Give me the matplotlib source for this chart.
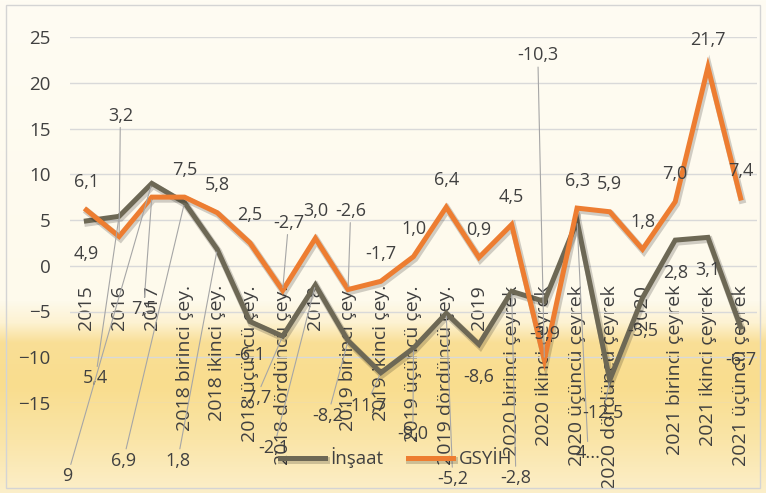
import matplotlib
matplotlib.use("Agg")
import matplotlib.pyplot as plt
import matplotlib.patheffects as pe
from matplotlib.colors import to_rgb
from matplotlib.patches import Rectangle
import numpy as np

plt.rcParams['font.family'] = ['Open Sans', 'DejaVu Sans']

# categories (x axis)
categories = ['2015', '2016', '2017',
              '2018 birinci çey.', '2018 ikinci çey.', '2018 üçüncü çey.', '2018 dördüncü çey.', '2018',
              '2019 birinci çey.', '2019 ikinci çey.', '2019 üçüncü çey.', '2019 dördüncü çey.', '2019',
              '2020 birinci çeyrek', '2020 ikinci çeyrek', '2020 üçüncü çeyrek', '2020 dördüncü çeyrek', '2020',
              '2021 birinci çeyrek', '2021 ikinci çeyrek', '2021 üçüncü çeyrek']

# series values (% change)
insaat = [4.9, 5.4, 9.0, 6.9, 1.8, -6.1, -7.7, -2.1, -8.2, -11.7, -9.0, -5.2, -8.6,
          -2.8, -3.9, 4.9, -12.5, -3.5, 2.8, 3.1, -6.7]
gsyih = [6.1, 3.2, 7.5, 7.5, 5.8, 2.5, -2.7, 3.0, -2.6, -1.7, 1.0, 6.4, 0.9,
         4.5, -10.3, 6.3, 5.9, 1.8, 7.0, 21.7, 7.4]

# label texts that differ from the plain value
insaat_text = {2: '9', 15: '4...'}

# data labels moved away from their point (index -> label position), drawn with a leader line
gsyih_moved = {1: (1.04, 16.4), 2: (1.75, -4.7), 6: (6.18, 4.7), 8: (8.08, 6.0), 14: (13.8, 23.0)}
insaat_moved = {1: (0.28, -12.3), 2: (-0.58, -23.0), 3: (1.13, -21.3), 4: (2.79, -21.3),
                6: (5.18, -14.5), 7: (5.73, -19.9), 8: (7.38, -16.4), 9: (8.54, -15.3),
                10: (9.98, -18.4), 11: (11.2, -23.3), 13: (13.13, -23.2), 15: (15.34, -20.5),
                16: (15.8, -16.1)}

W, H = 766, 493
fig = plt.figure(figsize=(W / 100, H / 100), dpi=100)

# background: cream on top, yellow band at the bottom
stops_px = [0, 300, 322, 342, 385, 440, 493]
stops_col = ['#fefcf3', '#fefaec', '#fdf2d2', '#f9df96', '#f9dd8e', '#fae5a8', '#fcefca']
yy = np.arange(H)
grad = np.zeros((H, 1, 3))
for c in range(3):
    grad[:, 0, c] = np.interp(yy, stops_px, [to_rgb(s)[c] for s in stops_col])
bg = fig.add_axes([0, 0, 1, 1], zorder=-1)
bg.imshow(grad, aspect='auto', extent=[0, 1, 0, 1])
bg.axis('off')
fig.patches.append(Rectangle((6 / W, 5 / H), 754 / W, 483 / H, transform=fig.transFigure,
                             fill=False, edgecolor='#d4d4d4', lw=1))

ax = fig.add_axes([70 / W, 1 - 403 / H, 687 / W, 366 / H])
ax.set_zorder(1)
ax.patch.set_visible(False)

x = np.arange(len(categories))
gray = '#6d6855'
orange = '#ed7d31'
txt = '#404040'
shadow = [pe.SimpleLineShadow(offset=(1, -1.5), shadow_color='#000000', alpha=0.18, linewidth=5), pe.Normal()]

l1, = ax.plot(x, insaat, color=gray, lw=3.6, solid_joinstyle='miter', label='İnşaat', path_effects=shadow)
l2, = ax.plot(x, gsyih, color=orange, lw=3.6, solid_joinstyle='miter', label='GSYİH', path_effects=shadow)

ax.set_xlim(-0.5, len(categories) - 0.5)
ax.set_ylim(-15, 25)
ax.set_yticks(np.arange(-15, 26, 5))
ax.yaxis.grid(True, color='#d9d9d9', lw=1)
ax.set_axisbelow(True)
for s in ax.spines.values():
    s.set_visible(False)
ax.spines['bottom'].set_position(('data', 0))
ax.set_xticks(x)
ax.set_xticklabels(categories, rotation=90, va='top', ha='center')
ax.tick_params(axis='x', length=0, pad=14, labelsize=14, colors=txt)
ax.tick_params(axis='y', length=0, pad=14, labelsize=13.5, colors=txt)


def fmt(v):
    return f"{v:.1f}".replace('.', ',')


def labels(values, moved, offset, texts={}):
    for i, v in enumerate(values):
        s = texts.get(i, fmt(v))
        if i in moved:
            ax.annotate(s, xy=(i, v), xytext=moved[i], ha='center', va='center', fontsize=13,
                        color=txt, annotation_clip=False, zorder=5,
                        arrowprops=dict(arrowstyle='-', color='#a6a6a6', lw=0.8, shrinkA=0, shrinkB=2))
        else:
            ax.text(i, v + offset, s, ha='center', va='center', fontsize=13, color=txt, zorder=5)


labels(insaat, insaat_moved, -3.6, insaat_text)
labels(gsyih, gsyih_moved, 3.0)

fig.legend(handles=[l1, l2], loc='center', bbox_to_anchor=(396 / W, 1 - 458 / H), ncol=2,
           frameon=False, fontsize=13.5, handlelength=2.4, handletextpad=0.3, columnspacing=1.3,
           labelcolor=txt)

fig.savefig('out.png', dpi=100)
